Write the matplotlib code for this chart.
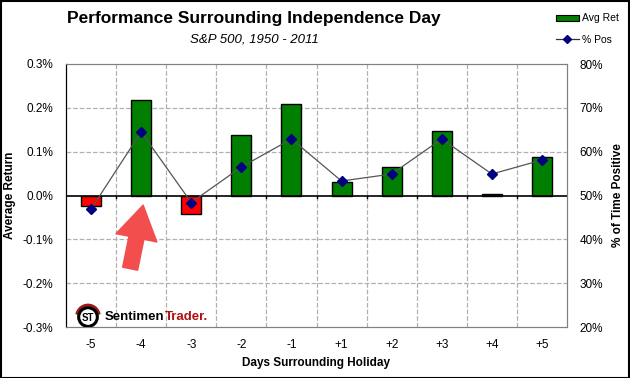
import matplotlib

matplotlib.use("Agg")
import matplotlib.pyplot as plt
from matplotlib.lines import Line2D
from matplotlib.patches import Patch, Wedge, Circle

plt.rcParams["font.family"] = ["Liberation Sans", "DejaVu Sans"]

DAYS = ["-5", "-4", "-3", "-2", "-1", "+1", "+2", "+3", "+4", "+5"]
AVG_RET = [-0.023, 0.217, -0.043, 0.137, 0.208, 0.030, 0.066, 0.147, 0.003, 0.087]
PCT_POS = [46.9, 64.5, 48.4, 56.5, 62.9, 53.3, 54.9, 62.9, 54.9, 58.1]
RET_TICKS = [-0.3, -0.2, -0.1, 0.0, 0.1, 0.2, 0.3]
POS_TICKS = [20, 30, 40, 50, 60, 70, 80]

W, H = 630, 378
fig = plt.figure(figsize=(W / 100, H / 100), dpi=100)
ax = fig.add_axes([66 / W, 1 - 327 / H, (567 - 66) / W, (327 - 64) / H])
ax2 = ax.twinx()

xs = list(range(len(DAYS)))
colors = ["#ff0000" if v < 0 else "#007f00" for v in AVG_RET]
ax.bar(xs, AVG_RET, width=0.4, color=colors, edgecolor="black", linewidth=1, zorder=3)
ax.axhline(0, color="black", linewidth=1.2, zorder=4)
for b in [x + 0.5 for x in xs[:-1]]:
    ax.plot([b, b], [-0.006, 0.0], color="black", linewidth=1, zorder=4)

ax.set_xlim(-0.5, len(DAYS) - 0.5)
ax.set_ylim(-0.3, 0.3)
ax.set_yticks(RET_TICKS)
ax.set_yticklabels([f"{t:.1f}%" for t in RET_TICKS], fontsize=8.5)
ax.set_xticks(xs)
ax.set_xticklabels(DAYS, fontsize=8.5)
ax.tick_params(axis="x", length=0, pad=9)
ax.tick_params(axis="y", length=0, pad=9)
for b in [x + 0.5 for x in xs[:-1]]:
    ax.axvline(b, color="#b0b0b0", linestyle="--", linewidth=0.9, zorder=1)
for t in RET_TICKS[1:-1]:
    if t != 0:
        ax.axhline(t, color="#b0b0b0", linestyle="--", linewidth=0.9, zorder=1)

ax2.plot(xs, PCT_POS, color="#555555", linewidth=0.9, marker="D", markersize=5,
         markerfacecolor="#000080", markeredgecolor="#000080", zorder=5)
ax2.set_ylim(20, 80)
ax2.set_yticks(POS_TICKS)
ax2.set_yticklabels([f"{t}%" for t in POS_TICKS], fontsize=8.5)
ax2.tick_params(axis="y", length=0, pad=9)

for a in (ax, ax2):
    a.spines["top"].set_color("#808080")
    a.spines["right"].set_color("#808080")
    a.spines["left"].set_color("black")
    a.spines["bottom"].set_color("#808080")

ax.set_ylabel("Average Return", fontsize=8.5, fontweight="bold")
ax.yaxis.set_label_coords((16 - 66) / 501, 0.5)
ax2.set_ylabel("% of Time Positive", fontsize=8.5, fontweight="bold")
ax2.yaxis.set_label_coords((612 - 66) / 501, 0.5)
ax.set_xlabel("Days Surrounding Holiday", fontsize=8.5, fontweight="bold", labelpad=4)

fig.text(254 / W, 1 - 19 / H, "Performance Surrounding Independence Day",
         ha="center", va="center", fontsize=12.5, fontweight="bold")
fig.text(254 / W, 1 - 40 / H, "S&P 500, 1950 - 2011",
         ha="center", va="center", fontsize=9.5, style="italic")

handles = [
    Patch(facecolor="#007f00", edgecolor="black", linewidth=0.8),
    Line2D([0], [0], color="#333333", linewidth=0.9, marker="D", markersize=4,
           markerfacecolor="#000080", markeredgecolor="#000080"),
]
fig.legend(handles, ["Avg Ret", "% Pos"], loc="upper right",
           bbox_to_anchor=(628 / W, 1 - 4 / H), frameon=False, fontsize=7.5,
           handlelength=2.2, handleheight=0.5, labelspacing=1.1, handletextpad=0.3)

# arrow annotation
ax.annotate("", xy=(1.04, -0.022), xytext=(0.78, -0.167),
            arrowprops=dict(facecolor="#f24e4e", edgecolor="#f24e4e",
                            width=11, headwidth=30, headlength=24), zorder=6)

# logo
logo = fig.add_axes([74 / W, 1 - 327 / H, 28 / W, 24 / H])
logo.set_xlim(-1.2, 1.2)
logo.set_ylim(-0.9, 1.15)
logo.set_aspect("equal")
logo.axis("off")
logo.add_patch(Wedge((0, 0), 1.1, 10, 170, width=0.25, facecolor="#a01818", edgecolor="none"))
logo.add_patch(Circle((0, -0.05), 0.8, facecolor="white", edgecolor="black", linewidth=2.2))
logo.text(0, -0.1, "ST", fontsize=7, fontweight="bold", ha="center", va="center")
t1 = ax.text(0.28, -0.292, "Sentimen", fontsize=9.5, fontweight="bold", color="black",
             ha="left", va="bottom", zorder=6)
ax.annotate("Trader.", xy=(1, 0), xycoords=t1, fontsize=9.5, fontweight="bold",
            color="#b01010", ha="left", va="bottom", zorder=6)

fig.patches.append(plt.Rectangle((0.001, 0.001), 0.997, 0.997, transform=fig.transFigure,
                                 fill=False, edgecolor="black", linewidth=1.5))

fig.savefig("out.png", dpi=100)
